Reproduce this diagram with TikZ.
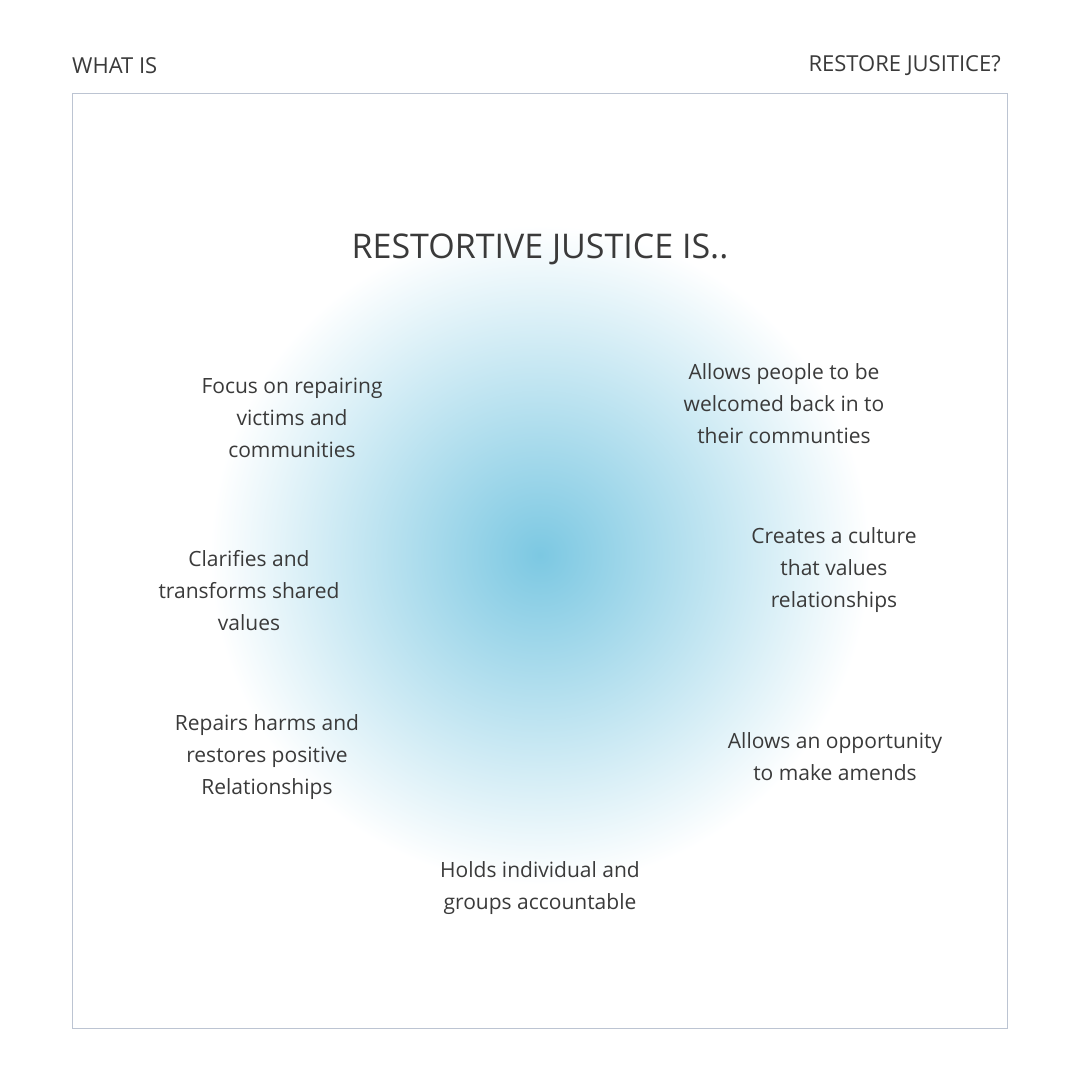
\documentclass[tikz,border=0pt]{standalone}
\usepackage{fontspec}
\setmainfont{Open Sans}
\definecolor{txt}{HTML}{3A3A3A}
\definecolor{glow}{HTML}{7CC8E2}
\definecolor{frame}{HTML}{BCC4D2}
\begin{document}
\begin{tikzpicture}[x=1pt,y=-1pt,
  lbl/.style={text=txt,font=\fontsize{21}{32}\selectfont,align=center,inner sep=0pt},
  top/.style={text=txt,font=\fontsize{22}{26}\selectfont,inner sep=0pt}]
\useasboundingbox (0,0) rectangle (1080,1080);
\fill[white] (0,0) rectangle (1080,1080);
\shade[inner color=glow,outer color=white] (540,555) circle[radius=330];
\draw[frame,line width=1pt] (72,93) rectangle (1007,1028);
\node[top,anchor=west] (wl) at (72,66) {WHAT IS};
\node[top,anchor=east] (wr) at (1001,66) {RESTORE JUSITICE?};
\node[text=txt,font=\fontsize{34}{40}\selectfont,inner sep=0pt] (title) at (540,249) {RESTORTIVE JUSTICE IS..};
\node[lbl] (a) at (292,418) {Focus on repairing\\victims and\\communities};
\node[lbl] (b) at (249,591) {Clarifies and\\transforms shared\\values};
\node[lbl] (c) at (267,757) {Repairs harms and\\restores positive\\Relationships};
\node[lbl] (d) at (540,888) {Holds individual and\\groups accountable};
\node[lbl] (e) at (784,404) {Allows people to be\\welcomed back in to\\their communties};
\node[lbl] (f) at (834,570) {Creates a culture\\that values\\relationships};
\node[lbl] (g) at (835,757) {Allows an opportunity\\to make amends};
\end{tikzpicture}
\end{document}
